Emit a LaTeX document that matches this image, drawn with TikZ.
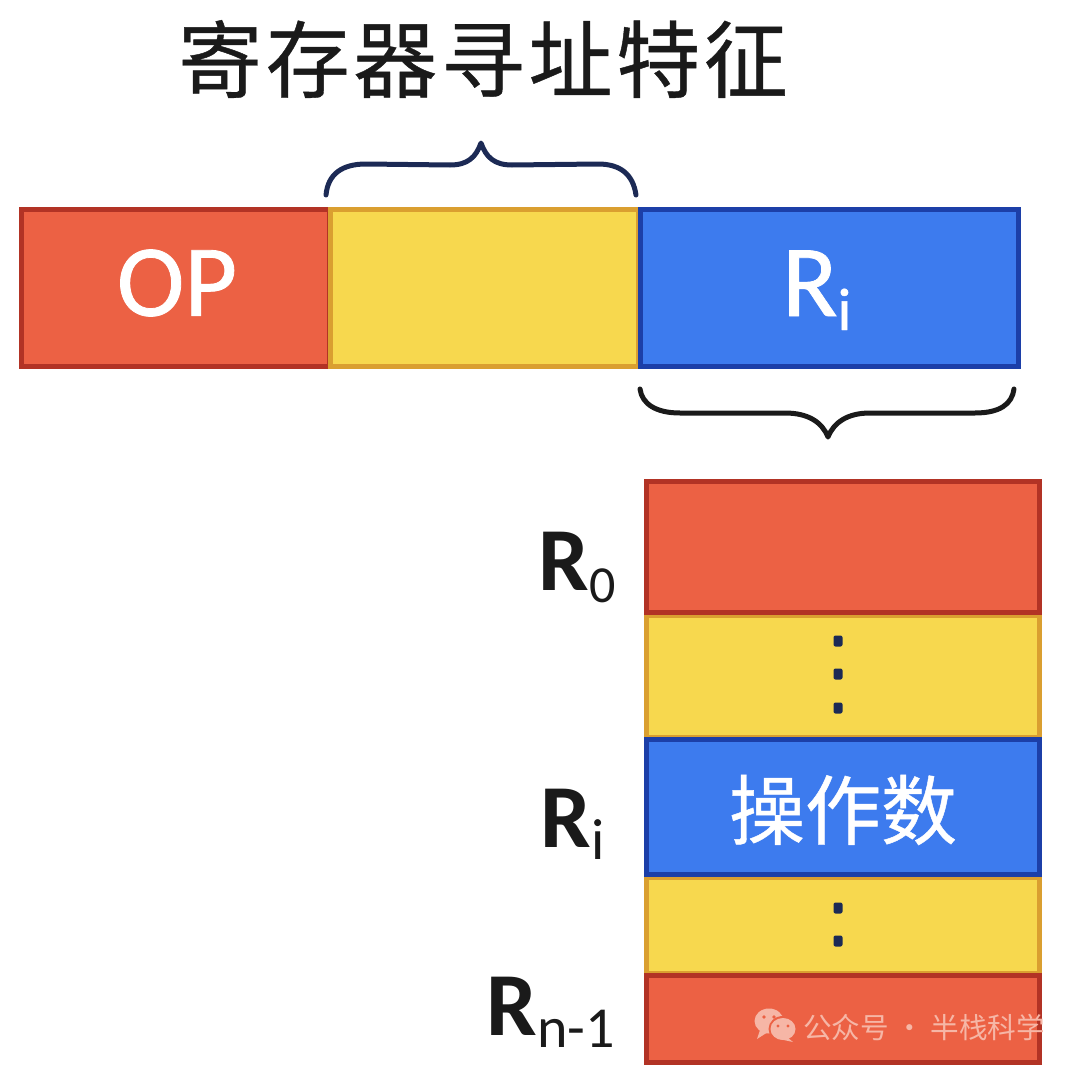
\documentclass[tikz,border=0pt]{standalone}
\usepackage{fontspec}
\setmainfont{Carlito}
\newfontfamily\latinmid[FakeBold=0.8]{Carlito}
\newfontfamily\cjk{Noto Sans CJK SC}
\newfontfamily\cjkmid[FakeBold=0.6]{Noto Sans CJK SC}
\newfontfamily\cjktitle[LetterSpace=4.3,FakeBold=0.5]{Noto Sans CJK SC}
\definecolor{redfill}{HTML}{EC6144}
\definecolor{redline}{HTML}{B23325}
\definecolor{yellowfill}{HTML}{F7D84E}
\definecolor{yellowline}{HTML}{DA9F30}
\definecolor{bluefill}{HTML}{3D7BEE}
\definecolor{blueline}{HTML}{1C3FA8}
\definecolor{navy}{HTML}{1C2A55}
\definecolor{inkblack}{HTML}{1A1A1A}
\definecolor{markpink}{HTML}{F6B6A6}
\newcommand{\regname}[3]{{\fontsize{90}{90}\selectfont\bfseries R}{\fontsize{#3}{#3}\selectfont\raisebox{-12pt}{#2}}}
\tikzset{
	cell/.style={draw, line width=5pt, outer sep=0pt, inner sep=0pt},
	redcell/.style={cell, draw=redline, fill=redfill},
	yellowcell/.style={cell, draw=yellowline, fill=yellowfill},
	bluecell/.style={cell, draw=blueline, fill=bluefill},
	whitetext/.style={text=white, font=\latinmid\fontsize{102}{102}\selectfont},
	reglabel/.style={text=inkblack, anchor=base east, inner sep=0pt},
	bracket/.style={line width=5pt, line cap=round, line join=round},
	stackdot/.style={fill=navy, rounded corners=2pt}
}
\begin{document}
\begin{tikzpicture}[x=1pt, y=-1pt]
	\useasboundingbox (0,0) rectangle (1080,1071);

	% title
	\node[text=inkblack, font=\cjktitle\fontsize{84}{84}\selectfont, inner sep=0pt] (title) at (483,59) {寄存器寻址特征};

	% instruction word
	\node[redcell, minimum width=308pt, minimum height=157pt] (op) at (175,288) {};
	\node[yellowcell, minimum width=308pt, minimum height=157pt] (addr) at (484.5,288) {};
	\node[bluecell, minimum width=378pt, minimum height=157pt] (ri) at (829.5,288) {};
	\node[whitetext] (oplabel) at (177,283) {OP};
	\node[whitetext, anchor=base west, inner sep=0pt] (rilabel) at (782,316) {R\raisebox{-14pt}{\fontsize{60}{60}\selectfont i}};

	% braces
	\coordinate (topa) at (326,195);
	\coordinate (topb) at (481,143);
	\coordinate (topc) at (636,195);
	\coordinate (bota) at (640,389);
	\coordinate (botb) at (828,437);
	\coordinate (botc) at (1014,389);
	\draw[bracket, navy] (topa) .. controls (328,174) and (342,164) .. (366,164) -- (450,165) .. controls (468,165) and (476,157) .. (topb) .. controls (486,157) and (494,165) .. (512,165) -- (598,164) .. controls (620,164) and (633,174) .. (topc);
	\draw[bracket, inkblack] (bota) .. controls (642,404) and (656,413) .. (680,413) -- (785,413) .. controls (808,413) and (822,422) .. (botb) .. controls (834,422) and (848,413) .. (870,413) -- (975,413) .. controls (1000,413) and (1012,404) .. (botc);

	% register stack
	\node[yellowcell, minimum width=393pt, minimum height=122pt] (upper) at (843,676) {};
	\node[yellowcell, minimum width=393pt, minimum height=96pt] (lower) at (843,925) {};
	\node[redcell, minimum width=393pt, minimum height=131pt] (rzero) at (843,547) {};
	\node[bluecell, minimum width=393pt, minimum height=135pt] (rmid) at (843,807) {};
	\node[redcell, minimum width=393pt, minimum height=87pt] (rlast) at (843,1019) {};
	\node[text=white, font=\cjkmid\fontsize{76}{76}\selectfont, inner sep=0pt] (operand) at (843,810) {操作数};

	\foreach \y in {641,674,708}
		\fill[stackdot] (833.5,\y-5.5) rectangle (842.5,\y+5.5);
	\foreach \y in {908,941}
		\fill[stackdot] (833.5,\y-5.5) rectangle (842.5,\y+5.5);

	\node[reglabel] (labelzero) at (616,590) {\regname{R}{0}{52}};
	\node[reglabel] (labeli) at (605,847) {\regname{R}{i}{58}};
	\node[reglabel] (labellast) at (615,1035) {\regname{R}{n-1}{58}};

	% watermark
	\fill[markpink] (769,1021) ellipse (14.5pt and 12.5pt);
	\fill[markpink] (760,1030) -- (757,1039) -- (768,1032) -- cycle;
	\fill[redfill] (783,1029) ellipse (14.5pt and 13pt);
	\fill[markpink] (783,1029) ellipse (12.5pt and 11pt);
	\fill[markpink] (787,1037) -- (793,1042) -- (779,1039) -- cycle;
	\fill[redfill] (764,1017) circle (1.8pt) (774,1017) circle (1.8pt) (778,1026) circle (1.6pt) (788,1026) circle (1.6pt);
	\node[text=markpink, font=\cjk\fontsize{28.6}{29}\selectfont, anchor=west, inner sep=0pt] (mark) at (803,1027) {公众号 · 半栈科学};
\end{tikzpicture}
\end{document}
